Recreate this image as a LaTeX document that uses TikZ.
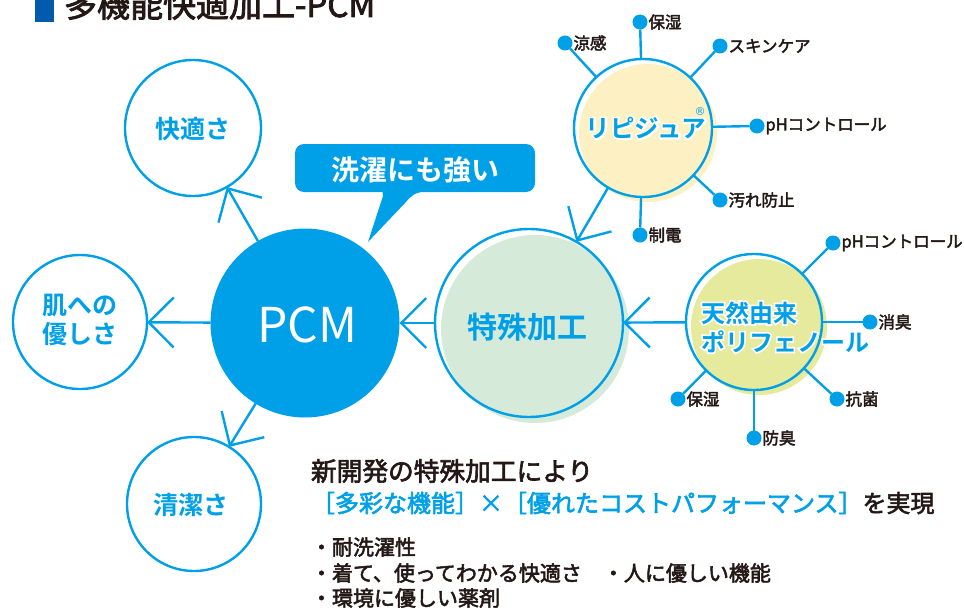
\documentclass[tikz,border=0pt]{standalone}
\usepackage{fontspec}
\setmainfont{Noto Sans CJK JP}
\newfontfamily\jp{Noto Sans CJK JP}
\newfontfamily\jpm{Noto Sans CJK JP}[FakeBold=2.5]
\newfontfamily\jpb{Noto Sans CJK JP Bold}
\newfontfamily\jphalo{Noto Sans CJK JP Bold}[FakeBold=14]
\newfontfamily\dvs{DejaVu Sans}
\usetikzlibrary{arrows.meta}
\definecolor{cblue}{HTML}{00A0E9}
\definecolor{cdark}{HTML}{231815}
\definecolor{titleblue}{HTML}{005BAC}
\definecolor{lgreen}{HTML}{D5EAD8}
\definecolor{lyellow}{HTML}{FDF1C3}
\definecolor{lyg}{HTML}{E6EA9C}
\newcommand\fs[1]{\fontsize{#1}{#1}\selectfont}
\begin{document}
\begin{tikzpicture}[x=1pt,y=-1pt,
  every node/.style={inner sep=0pt, outer sep=0pt},
  ring/.style={circle, draw=cblue, line width=2.4pt, minimum size=#1},
  arr/.style={draw=cblue, line width=2.4pt, -{Straight Barb[length=25pt,width=50pt]}},
  sat/.style={draw=cblue, line width=2.4pt},
  dotn/.style={circle, fill=cblue, minimum size=15pt},
  lab/.style={anchor=west, text=cdark, font=\jpm\fs{16.5}},
  ringtxt/.style={text=cblue, font=\jpb\fs{#1}, align=center},
  halotxt/.style={text=white, font=\jphalo\fs{#1}, align=center},
  body/.style={anchor=west, text=cdark, font=\jpm\fs{#1}}]
\useasboundingbox (0,0) rectangle (964,610);

% title
\fill[titleblue] (35,-5) rectangle (54,22);
\node[anchor=base west, text=cdark, font=\jpm\fs{33}] (title) at (64,17) {多機能快適加工-PCM};

% offset fills
\fill[lyellow] (648,133) circle[radius=69pt];
\fill[lgreen] (535,329) circle[radius=94pt];
\fill[lyg] (759,327) circle[radius=68pt];

% main circles
\node[ring=136pt] (kai) at (193,128) {};
\node[ring=134pt] (hada) at (80,322) {};
\node[ring=134pt] (sei) at (194,504) {};
\node[circle, fill=cblue, minimum size=189pt] (pcm) at (305,323) {};
\node[ring=188pt] (toku) at (529,323) {};
\node[ring=138pt] (lipi) at (643,128) {};
\node[ring=136pt] (ten) at (754,322) {};

% speech bubble
\node[fill=cblue, rounded corners=9pt, minimum width=240pt, minimum height=48pt] (bub) at (415,168) {};
\fill[cblue] (382,188) -- (383,196) -- (368,242) -- (405,203) .. controls (413,194) .. (428,190) -- cycle;
\node[text=white, font=\jpb\fs{28}] (bubt) at (415,170) {洗濯にも強い};

% arrows
\draw[arr] (pcm) -- (kai);
\draw[arr] (pcm) -- (hada);
\draw[arr] (pcm) -- (sei);
\draw[arr] (toku) -- (pcm);
\draw[arr] (lipi) -- (toku);
\draw[arr] (ten) -- (toku);

% Lipidure satellites
\node[dotn] (l1) at (565,43) {};
\node[dotn] (l2) at (640,22) {};
\node[dotn] (l3) at (720,46) {};
\node[dotn] (l4) at (757,126) {};
\node[dotn] (l5) at (720,200) {};
\node[dotn] (l6) at (640,235) {};
\foreach \d in {l1,l2,l3,l4,l5,l6} \draw[sat] (lipi) -- (\d);
\node[lab] (l1t) at ([xshift=1pt]l1.east) {涼感};
\node[lab] (l2t) at ([xshift=1pt]l2.east) {保湿};
\node[lab] (l3t) at ([xshift=1pt]l3.east) {スキンケア};
\node[lab] (l4t) at ([xshift=1pt]l4.east) {pHコントロール};
\node[lab] (l5t) at ([xshift=1pt]l5.east) {汚れ防止};
\node[lab] (l6t) at ([xshift=1pt]l6.east) {制電};

% polyphenol satellites
\node[dotn] (p1) at (833,243) {};
\node[dotn] (p2) at (870,322) {};
\node[dotn] (p3) at (837,399) {};
\node[dotn] (p4) at (754,438) {};
\node[dotn] (p5) at (678,399) {};
\foreach \d in {p1,p2,p3,p4,p5} \draw[sat] (ten) -- (\d);
\node[lab] (p1t) at ([xshift=1pt]p1.east) {pHコントロール};
\node[lab] (p2t) at ([xshift=1pt]p2.east) {消臭};
\node[lab] (p3t) at ([xshift=1pt]p3.east) {抗菌};
\node[lab] (p4t) at ([xshift=1pt]p4.east) {防臭};
\node[lab] (p5t) at ([xshift=1pt]p5.east) {保湿};

% circle texts
\node[ringtxt=25] (kait) at (193,129) {快適さ};
\node[ringtxt=25, align=center] (hadat) at (80,320) {肌への\\[4pt]優しさ};
\node[ringtxt=25] (seit) at (191,505) {清潔さ};
\node[text=white, font=\jp\fs{48}] (pcmt) at (307,325) {PCM};
\node[ringtxt=30] (tokut) at (527,327) {特殊加工};
\node[halotxt=24.5] (lipih) at (646,128) {リピジュア};
\node[ringtxt=24.5] (lipit) at (646,128) {リピジュア};
\node[text=cblue, font=\dvs\fs{11}] (reg) at (700,112) {®};
\node[halotxt=24, anchor=west, align=left] (tenh) at (701,327) {天然由来\\[5pt]ポリフェノール};
\node[ringtxt=24, anchor=west, align=left] (tent) at (701,327) {天然由来\\[5pt]ポリフェノール};

% bottom text
\node[body=25.7] (b1) at (311,471) {新開発の特殊加工により};
\node[body=24] (b2) at (311,503) {\textcolor{cblue}{［多彩な機能］×［優れたコストパフォーマンス］}を実現};
\node[body=21] (b3) at (311,547) {・耐洗濯性};
\node[body=21] (b4) at (311,573) {・着て、使ってわかる快適さ　・人に優しい機能};
\node[body=21] (b5) at (311,598) {・環境に優しい薬剤};
\end{tikzpicture}
\end{document}
